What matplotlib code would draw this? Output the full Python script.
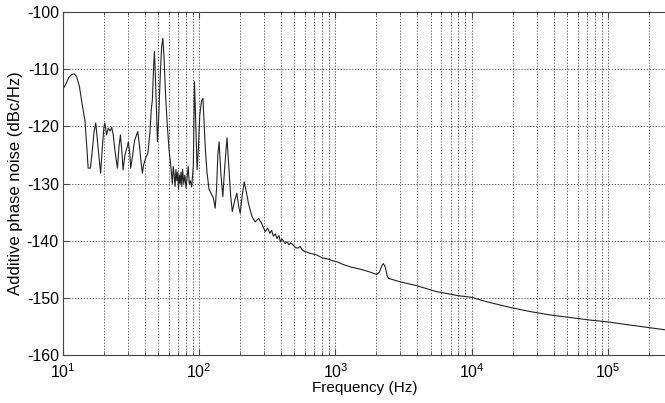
import numpy as np
import matplotlib
matplotlib.use("Agg")
import matplotlib.pyplot as plt

plt.rcParams['font.family'] = ['Liberation Sans', 'DejaVu Sans']
plt.rcParams['mathtext.fontset'] = 'custom'
plt.rcParams['mathtext.rm'] = 'Liberation Sans'
plt.rcParams['axes.unicode_minus'] = False

# frequency (Hz) and additive phase noise (dBc/Hz)
freq = [10.0, 10.5, 11.0, 11.6, 12.1, 12.6, 13.2, 13.8, 14.5, 15.0, 15.3, 15.9,
        16.3, 16.9, 17.4, 17.9, 18.4, 18.9, 19.4, 20.0, 20.3, 20.9, 21.5, 22.2,
        22.8, 23.4, 24.0, 25.1, 25.8, 26.4, 27.1, 27.6, 28.5, 29.6, 30.2, 31.0,
        31.4, 32.5, 33.5, 35.4, 36.5, 37.5, 38.3, 39.0, 40.5, 42.0, 43.5, 44.5,
        45.3, 46.2, 46.9, 47.5, 48.5, 49.4, 50.5, 51.8, 53.0, 54.1, 55.2, 56.5,
        58.0, 60.0, 62.0, 63.5, 64.5, 65.5, 66.5, 67.5, 68.5, 69.5, 70.5, 71.5,
        72.5, 73.5, 74.5, 75.5, 77.0, 78.5, 80.0, 81.5, 83.0, 84.5, 86.0, 88.0,
        90.5, 92.3, 94.5, 96.5, 98.5, 101, 104, 106.5, 108.5, 111, 114, 118,
        122, 127, 131, 134, 137, 140, 144, 149, 154, 160, 165, 170,
        175, 182, 189, 195, 200, 207, 214, 222, 230, 244, 258, 273,
        288, 305, 318, 330, 340, 350, 362, 372, 385, 395, 405, 415,
        428, 442, 455, 470, 493, 510, 530, 550, 570, 595, 620, 650,
        680, 731, 800, 880, 950, 1030, 1150, 1300, 1530, 1750, 2010, 2100,
        2200, 2250, 2320, 2400, 2460, 3000, 4000, 5500, 7900, 10000, 13000, 19400,
        27000, 38000, 55000, 75000, 100000, 150000, 267000]
noise = [-113.5, -112.6, -111.5, -110.9, -110.8, -111.3, -113.0, -116.0, -119.0, -124.0, -127.3, -127.3,
         -125.0, -121.0, -119.4, -122.5, -125.5, -128.2, -124.0, -120.0, -119.4, -121.5, -120.3, -120.8,
         -120.2, -121.5, -124.0, -127.3, -123.5, -121.5, -124.5, -127.6, -125.0, -123.6, -122.7, -125.0,
         -127.3, -125.0, -122.5, -120.9, -123.5, -126.5, -128.2, -126.8, -125.5, -124.7, -121.0, -117.0,
         -115.4, -110.0, -106.9, -110.0, -117.0, -122.7, -118.0, -111.0, -106.0, -104.6, -108.0, -114.0,
         -118.9, -124.0, -127.1, -130.0, -127.0, -128.5, -130.5, -127.5, -129.5, -128.0, -131.0, -128.5,
         -130.0, -128.0, -130.5, -127.5, -130.0, -128.5, -130.8, -129.0, -127.0, -130.0, -129.5, -130.6,
         -127.0, -112.2, -120.0, -127.6, -124.0, -118.0, -115.5, -115.1, -119.0, -124.0, -128.0, -131.0,
         -131.7, -132.5, -134.3, -131.0, -125.0, -122.7, -128.0, -132.3, -127.0, -122.0, -127.0, -132.0,
         -134.9, -133.0, -131.7, -134.0, -135.2, -132.0, -129.7, -131.5, -133.5, -135.8, -136.7, -136.1,
         -137.0, -138.4, -137.8, -138.7, -138.2, -139.2, -138.8, -139.6, -139.1, -140.2, -139.7, -140.0,
         -140.5, -140.2, -140.7, -140.4, -140.8, -141.2, -141.3, -141.0, -141.6, -141.9, -142.0, -142.2,
         -142.3, -142.5, -143.0, -143.2, -143.5, -143.7, -144.2, -144.6, -145.0, -145.4, -145.9, -145.5,
         -144.3, -144.0, -144.6, -146.2, -146.6, -147.2, -147.9, -148.9, -149.6, -149.9, -150.7, -151.7,
         -152.4, -153.0, -153.5, -153.9, -154.2, -154.8, -155.6]

fig = plt.figure(figsize=(6.65, 4.03), dpi=100)
ax = fig.add_axes([0.0947, 0.119, 0.9068, 0.851])

ax.semilogx(freq, noise, color='#222222', linewidth=0.8)

ax.set_xlim(10, 2.67e5)
ax.set_ylim(-160, -100)
ax.set_yticks(np.arange(-160, -99, 10))
ax.grid(True, which='both', linestyle=(0, (1.5, 2)), color='#444444', linewidth=0.6)
ax.tick_params(which='both', direction='in', top=True, right=False, labelsize=11.5,
               color='#444444')
ax.tick_params(axis='x', pad=5)
ax.tick_params(axis='y', pad=3)
ax.tick_params(which='major', length=4)
ax.tick_params(which='minor', length=2.5)
ax.spines['right'].set_visible(False)
for s in ax.spines.values():
    s.set_linewidth(0.8)
    s.set_color('#444444')

ax.set_xlabel("Frequency (Hz)", fontsize=11, labelpad=0)
ax.set_ylabel("Additive phase noise (dBc/Hz)", fontsize=12, labelpad=3)

fig.savefig("out.png", dpi=100)
